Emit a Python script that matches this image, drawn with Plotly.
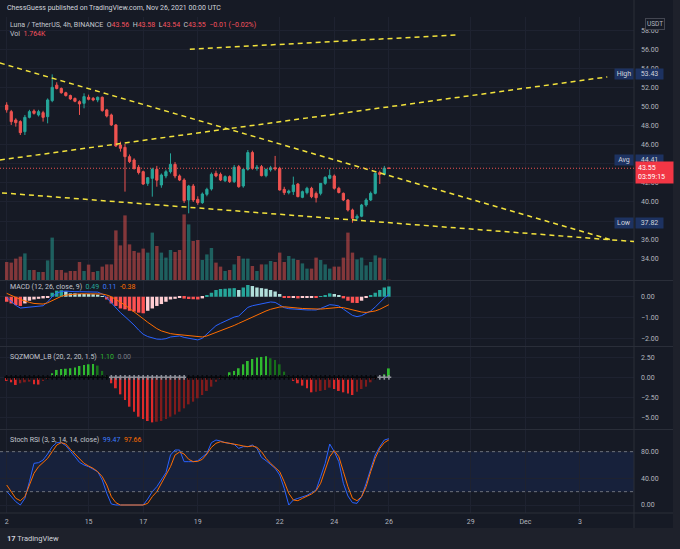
import pandas as pd
import plotly.graph_objects as go

# Luna / TetherUS, 4h candles, Binance, 12 Nov 2021 00:00 .. 26 Nov 2021 00:00
start_time = "2021-11-12 00:00"

opens = [50.20, 49.51, 48.63, 48.46, 47.40, 48.91, 49.58, 49.16, 49.40, 48.98,
         50.67, 52.30, 51.95, 51.50, 51.20, 50.90, 50.56, 50.39, 51.02, 50.91,
         50.74, 51.02, 49.69, 49.16, 48.11, 46.00, 45.75, 44.77, 44.42, 43.65,
         43.19, 41.96, 42.49, 43.44, 41.79, 42.74, 43.19, 43.96, 42.74, 42.31,
         40.21, 41.68, 40.28, 39.93, 40.81, 41.37, 43.02, 42.91, 42.24, 42.67,
         42.14, 43.72, 41.68, 43.44, 45.20, 43.55, 43.72, 42.77, 43.40, 43.60,
         43.54, 41.33, 40.98, 41.09, 41.89, 40.49, 40.98, 41.44, 40.90, 40.91,
         41.96, 42.50, 42.74, 41.44, 40.91, 40.21, 39.16, 38.30, 38.50, 39.68,
         40.21, 40.91, 43.10, 42.90, 43.56]
highs = [50.50, 49.69, 48.81, 48.60, 49.16, 49.70, 49.75, 49.70, 49.60, 50.90,
         53.43, 52.60, 52.05, 51.60, 51.30, 51.00, 50.70, 51.44, 51.30, 51.05,
         51.10, 51.10, 49.80, 49.30, 48.20, 46.35, 46.10, 45.00, 44.60, 43.90,
         43.30, 42.60, 43.60, 43.80, 43.00, 43.40, 45.12, 44.20, 42.90, 42.50,
         41.80, 41.90, 40.60, 41.00, 41.50, 43.10, 43.30, 43.10, 42.80, 42.80,
         43.90, 43.90, 43.50, 45.47, 45.40, 43.90, 43.90, 43.50, 43.80, 44.85,
         43.70, 41.60, 41.30, 42.67, 42.00, 41.20, 41.60, 41.60, 41.10, 42.00,
         42.70, 43.44, 42.90, 41.60, 41.00, 40.30, 39.30, 38.70, 39.80, 40.40,
         41.10, 43.10, 43.30, 43.80, 43.58]
lows = [49.40, 48.11, 47.93, 47.05, 47.05, 48.80, 49.20, 49.00, 48.46, 48.28,
        50.50, 51.85, 51.40, 51.10, 50.75, 50.50, 49.16, 49.86, 50.70, 50.60,
        50.50, 49.50, 48.90, 48.00, 45.80, 45.30, 41.09, 44.10, 43.40, 42.90,
        41.80, 41.70, 40.56, 41.61, 41.50, 42.50, 43.00, 42.50, 42.20, 39.90,
        38.81, 40.00, 39.70, 39.80, 40.60, 41.20, 42.60, 42.20, 42.10, 42.00,
        42.00, 41.50, 41.50, 43.30, 43.40, 43.30, 42.70, 42.60, 43.20, 43.30,
        41.20, 40.74, 40.80, 40.74, 40.50, 40.40, 40.80, 40.40, 39.95, 40.70,
        41.80, 42.40, 41.30, 40.90, 40.10, 39.00, 37.82, 38.00, 38.40, 39.50,
        40.10, 40.80, 41.90, 42.80, 43.54]
closes = [49.70, 48.46, 48.35, 47.30, 48.91, 49.51, 49.33, 49.51, 48.91, 50.74,
          52.07, 51.95, 51.50, 51.20, 50.85, 50.60, 50.32, 51.09, 50.81, 50.74,
          51.02, 49.62, 49.05, 48.11, 45.90, 45.65, 44.77, 44.25, 43.54, 43.10,
          41.89, 42.56, 43.44, 42.30, 42.84, 43.19, 43.96, 42.74, 42.31, 40.14,
          41.68, 40.21, 39.93, 40.84, 41.33, 42.91, 42.74, 42.31, 42.67, 42.14,
          43.65, 41.61, 43.44, 45.20, 43.54, 43.65, 42.77, 43.44, 43.60, 43.50,
          41.26, 40.98, 41.15, 41.79, 40.56, 41.09, 41.44, 40.56, 40.45, 41.96,
          42.60, 42.80, 41.44, 41.00, 40.21, 39.16, 38.28, 38.50, 39.68, 40.21,
          40.91, 43.02, 42.90, 43.56, 43.55]
# volume, thousands
volumes = [90, 87, 107, 117, 133, 50, 50, 40, 40, 98,
           212, 50, 50, 37, 45, 45, 90, 45, 77, 40,
           45, 67, 78, 78, 248, 173, 323, 178, 145, 137,
           157, 137, 237, 170, 137, 112, 150, 140, 150, 328,
           278, 195, 200, 100, 128, 160, 87, 67, 45, 50,
           78, 120, 107, 107, 70, 45, 78, 78, 95, 90,
           137, 90, 120, 107, 100, 83, 57, 57, 112, 100,
           78, 57, 67, 67, 112, 237, 137, 103, 112, 73,
           90, 123, 112, 108, 1.764]

# MACD (12, 26, close, 9)
macd_hist = [-0.24, -0.32, -0.40, -0.44, -0.32, -0.19, -0.13, -0.10, -0.08, -0.02,
             0.19, 0.29, 0.31, 0.25, 0.16, 0.16, 0.13, 0.13, 0.13, 0.12,
             0.10, 0.03, -0.13, -0.32, -0.44, -0.56, -0.60, -0.67, -0.71, -0.76,
             -0.79, -0.67, -0.56, -0.44, -0.35, -0.24, -0.13, -0.10, -0.06, -0.09,
             -0.11, -0.12, -0.13, -0.08, 0.06, 0.19, 0.32, 0.37, 0.38, 0.40,
             0.41, 0.32, 0.44, 0.56, 0.51, 0.44, 0.41, 0.38, 0.32, 0.25,
             0.13, -0.05, -0.06, -0.05, -0.08, -0.06, -0.03, -0.02, -0.03, 0.03,
             0.08, 0.16, 0.13, 0.06, -0.08, -0.19, -0.29, -0.30, -0.19, -0.06,
             0.05, 0.19, 0.32, 0.44, 0.49]
macd_line = [-0.03, -0.22, -0.41, -0.54, -0.52, -0.48, -0.46, -0.44, -0.43, -0.25,
             0.00, 0.17, 0.25, 0.27, 0.24, 0.24, 0.24, 0.24, 0.25, 0.24,
             0.22, 0.13, -0.05, -0.29, -0.54, -0.76, -0.95, -1.14, -1.35, -1.59,
             -1.79, -1.90, -1.97, -2.02, -2.03, -2.00, -1.92, -1.89, -1.87, -1.94,
             -1.98, -2.03, -2.06, -1.98, -1.78, -1.57, -1.38, -1.27, -1.17, -1.06,
             -0.97, -0.92, -0.71, -0.51, -0.43, -0.38, -0.32, -0.29, -0.25, -0.27,
             -0.38, -0.52, -0.57, -0.59, -0.62, -0.63, -0.63, -0.63, -0.63, -0.56,
             -0.48, -0.38, -0.40, -0.44, -0.59, -0.75, -0.89, -0.95, -0.90, -0.79,
             -0.68, -0.49, -0.27, -0.06, 0.11]
macd_signal = [0.16, 0.08, -0.03, -0.13, -0.21, -0.27, -0.32, -0.35, -0.35, -0.29,
               -0.19, -0.08, 0.02, 0.08, 0.11, 0.13, 0.14, 0.14, 0.14, 0.14,
               0.14, 0.13, 0.08, 0.00, -0.13, -0.25, -0.40, -0.56, -0.71, -0.87,
               -1.05, -1.22, -1.38, -1.52, -1.63, -1.71, -1.76, -1.79, -1.81, -1.84,
               -1.87, -1.90, -1.92, -1.92, -1.87, -1.79, -1.71, -1.63, -1.56, -1.46,
               -1.37, -1.27, -1.17, -1.06, -0.95, -0.86, -0.76, -0.68, -0.60, -0.54,
               -0.49, -0.48, -0.49, -0.51, -0.54, -0.56, -0.57, -0.59, -0.60, -0.59,
               -0.57, -0.54, -0.52, -0.51, -0.52, -0.57, -0.63, -0.70, -0.73, -0.75,
               -0.73, -0.68, -0.60, -0.49, -0.38]

# SQZMOM_LB (20, 2, 20, 1.5)
sqz_mom = [-0.45, -0.62, -0.95, -0.74, -0.62, -0.54, -0.87, -0.90, -0.45, -0.21,
           0.50, 0.91, 1.03, 1.06, 1.12, 1.20, 1.40, 1.53, 1.61, 1.65,
           1.45, 0.79, 0.17, -0.74, -1.36, -2.11, -2.81, -3.64, -4.26, -4.88,
           -5.17, -5.41, -5.58, -5.50, -5.41, -5.17, -4.88, -4.59, -4.26, -3.84,
           -3.35, -3.02, -2.60, -2.19, -1.69, -1.16, -0.54, -0.12, 0.21, 0.62,
           0.79, 1.12, 1.61, 2.02, 2.27, 2.44, 2.52, 2.60, 2.36, 2.15,
           1.61, 0.70, 0.08, -0.45, -0.74, -1.03, -1.36, -1.86, -1.78, -1.69,
           -1.57, -1.28, -1.45, -1.69, -1.86, -2.02, -2.19, -1.78, -1.45, -1.16,
           -0.62, -0.21, -0.02, 0.37, 1.10]
# 1 = squeeze released (grey cross), 0 = squeeze on (black cross)
sqz_off = [0, 0, 0, 0, 0, 0, 0, 0, 0, 0,
           0, 0, 0, 0, 0, 0, 0, 0, 0, 0,
           0, 0, 0, 1, 1, 1, 1, 1, 1, 1,
           1, 1, 1, 1, 1, 1, 1, 1, 1, 1,
           0, 0, 0, 0, 0, 0, 0, 0, 0, 0,
           0, 0, 0, 0, 0, 0, 0, 0, 0, 0,
           0, 0, 0, 0, 0, 0, 0, 0, 0, 0,
           0, 0, 0, 0, 0, 0, 0, 0, 0, 0,
           0, 0, 1, 1, 1]

# Stoch RSI (3, 3, 14, 14, close)
stoch_k = [20.5, 12.5, 5, 0, 10, 35, 62.5, 63.5, 67.5, 76.5,
           87.5, 93.5, 93.5, 89, 80, 72.5, 64, 60, 57.5, 53.5,
           50, 37.5, 17.5, 1.5, 0, 0, 0, 0, 0, 0,
           0, 9, 20, 27.5, 38.5, 48.5, 75, 82.5, 82.5, 65,
           65, 65, 66.5, 72.5, 77.5, 93.5, 97.5, 96, 93.5, 92.5,
           91, 85, 87.5, 87.5, 90, 85, 71.5, 66.5, 60, 55,
           45, 25, 0, 7.5, 10, 12.5, 14.5, 18.5, 22.5, 42.5,
           62.5, 91.5, 80, 65, 32.5, 13.5, 3.5, 2.5, 12.5, 32.5,
           55, 75, 87.5, 97.5, 99.47]
stoch_d = [30, 20, 10, 6.5, 12.5, 30, 47.5, 57.5, 63.5, 70,
           80, 90, 93.5, 91.5, 83.5, 76.5, 68.5, 62.5, 58.5, 55,
           50, 42.5, 30, 12.5, 3.5, 0, 0, 0, 0, 0,
           0, 2.5, 12.5, 20, 32.5, 43.5, 57.5, 75, 79.5, 76.5,
           68.5, 65, 65.5, 68.5, 76.5, 86.5, 92.5, 95, 94, 92.5,
           91.5, 90, 88.5, 87.5, 88.5, 86.5, 80, 70, 62.5, 56.5,
           50, 35, 17.5, 7.5, 6.5, 10, 13.5, 16.5, 21.5, 32.5,
           52.5, 72.5, 81.5, 72.5, 50, 27.5, 10, 6.5, 12.5, 27.5,
           50, 70, 85, 93.5, 97.66]

x_tick_dates = ["2021-11-12", "2021-11-15", "2021-11-17", "2021-11-19", "2021-11-22",
                "2021-11-24", "2021-11-26", "2021-11-29", "2021-12-01", "2021-12-03"]
x_tick_labels = ["2", "15", "17", "19", "22", "24", "26", "29", "Dec", "3"]
price_ticks = [34, 36, 38, 40, 42, 44, 46, 48, 50, 52, 54, 56, 58]
macd_ticks = [0, -1, -2]
sqz_ticks = [2.5, 0, -2.5, -5]
stoch_ticks = [80, 40, 0]

# Dashed trend lines drawn by the author: (time, price) -> (time, price)
trend_lines = [
    ("2021-11-11 18:00", 54.63, "2021-12-04 04:00", 36.00),
    ("2021-11-11 18:00", 44.42, "2021-12-04 00:00", 53.16),
    ("2021-11-11 12:00", 41.03, "2021-12-05 12:00", 35.72),
    ("2021-11-18 17:00", 56.08, "2021-11-28 11:30", 57.58),
]
price_high, price_avg, price_low = 53.43, 44.41, 37.82
countdown = "03:59:15"

# Look
FIG_W, FIG_H = 680, 549
PLOT_W = 634
FONT = "Roboto"
BG = "#161a25"
OUTER = "#1e212b"
GRID = "#1e2230"
BORDER = "#2a2e39"
TEXT = "#b2b5be"
UP, DOWN = "#26a69a", "#ef5350"
RED_TXT = "#f7525f"
BLUE, ORANGE = "#2962ff", "#ff6d00"
YELLOW = "#f2e23c"
LABEL_BG = "#1d3261"

dates = pd.date_range(start_time, periods=len(closes), freq="4h")
bar_ms = 4 * 3600 * 1000
x_range = ["2021-11-11 18:07", "2021-12-04 23:30"]


def xp(px):
    return px / PLOT_W


def yp(py):
    return 1 - py / FIG_H


def macd_colours(vals):
    cols, prev = [], 0
    for v in vals:
        if v >= 0:
            cols.append("#26a69a" if v > prev else "#b2dfdb")
        else:
            cols.append("#ffcdd2" if v > prev else "#ff5252")
        prev = v
    return cols


def sqz_colours(vals):
    cols, prev = [], 0
    for v in vals:
        if v > 0:
            cols.append("#2fb92f" if v > prev else "#17701a")
        else:
            cols.append("#de2a2a" if v < prev else "#801b1b")
        prev = v
    return cols


vol_colours = ["rgba(38,166,154,0.5)" if c >= o else "rgba(239,83,80,0.5)"
               for o, c in zip(opens, closes)]

fig = go.Figure()

# Price pane
fig.add_trace(go.Candlestick(
    x=dates, open=opens, high=highs, low=lows, close=closes,
    increasing=dict(line=dict(color=UP, width=1), fillcolor=UP),
    decreasing=dict(line=dict(color=DOWN, width=1), fillcolor=DOWN),
    xaxis="x", yaxis="y", name="LUNAUSDT",
))
fig.add_trace(go.Bar(
    x=dates, y=volumes, marker=dict(color=vol_colours, line=dict(width=0)),
    width=bar_ms * 0.75, xaxis="x", yaxis="y5", name="Vol",
))

# MACD pane
fig.add_trace(go.Bar(
    x=dates, y=macd_hist, marker=dict(color=macd_colours(macd_hist), line=dict(width=0)),
    width=bar_ms * 0.75, xaxis="x2", yaxis="y2",
))
fig.add_trace(go.Scatter(x=dates, y=macd_line, mode="lines",
                         line=dict(color=BLUE, width=1), xaxis="x2", yaxis="y2"))
fig.add_trace(go.Scatter(x=dates, y=macd_signal, mode="lines",
                         line=dict(color=ORANGE, width=1), xaxis="x2", yaxis="y2"))

# Squeeze momentum pane
fig.add_trace(go.Bar(
    x=dates, y=sqz_mom, marker=dict(color=sqz_colours(sqz_mom), line=dict(width=0)),
    width=bar_ms * 0.4, xaxis="x3", yaxis="y3",
))
fig.add_trace(go.Scatter(
    x=dates, y=[0] * len(dates), mode="markers",
    marker=dict(symbol="cross", size=4,
                color=["#8f929b" if s else "#05070b" for s in sqz_off]),
    xaxis="x3", yaxis="y3",
))

# Stoch RSI pane
fig.add_trace(go.Scatter(x=dates, y=stoch_k, mode="lines",
                         line=dict(color=BLUE, width=1), xaxis="x4", yaxis="y4"))
fig.add_trace(go.Scatter(x=dates, y=stoch_d, mode="lines",
                         line=dict(color=ORANGE, width=1), xaxis="x4", yaxis="y4"))

# Axes
tick_font = dict(size=7, color=TEXT, family=FONT)
x_common = dict(type="date", range=x_range, tickvals=x_tick_dates, ticktext=x_tick_labels,
                showgrid=True, gridcolor=GRID, zeroline=False, showline=False, ticks="",
                tickfont=tick_font, domain=[0, 1])
y_common = dict(side="right", showgrid=True, gridcolor=GRID, zeroline=False, showline=False,
                ticks="", tickfont=tick_font, ticklabelstandoff=6)


def fmt(vals, hidden=()):
    # labels sitting under the High/Avg/Low boxes are covered in the original
    return ["" if v in hidden else f"{v:.2f}".replace("-", "−") for v in vals]


fig.update_layout(
    width=FIG_W, height=FIG_H,
    margin=dict(l=0, r=FIG_W - PLOT_W, t=0, b=0),
    paper_bgcolor=BG, plot_bgcolor=BG,
    font=dict(family=FONT, size=7, color=TEXT),
    showlegend=False, hovermode=False,
    xaxis=dict(anchor="y", showticklabels=False, rangeslider=dict(visible=False), **x_common),
    xaxis2=dict(anchor="y2", showticklabels=False, **x_common),
    xaxis3=dict(anchor="y3", showticklabels=False, **x_common),
    xaxis4=dict(anchor="y4", showticklabels=True, ticklabelstandoff=3, **x_common),
    yaxis=dict(anchor="x", domain=[yp(280), yp(17)], range=[31.79, 59.47],
               tickvals=price_ticks, ticktext=fmt(price_ticks, hidden=(38, 44)), **y_common),
    yaxis5=dict(anchor="x", overlaying="y", range=[0, 1315], visible=False),
    yaxis2=dict(anchor="x2", domain=[yp(346), yp(281)], range=[-2.35, 0.75],
                tickvals=macd_ticks, ticktext=fmt(macd_ticks), **y_common),
    yaxis3=dict(anchor="x3", domain=[yp(429), yp(347)], range=[-6.40, 3.75],
                tickvals=sqz_ticks, ticktext=fmt(sqz_ticks), **y_common),
    yaxis4=dict(anchor="x4", domain=[yp(513), yp(430)], range=[-12.0, 112.5],
                tickvals=stoch_ticks, ticktext=fmt(stoch_ticks), **y_common),
)

# Frame, separators, drawings
shapes = [
    dict(type="rect", xref="paper", yref="paper", x0=xp(673), x1=xp(FIG_W), y0=0, y1=1,
         fillcolor=OUTER, line=dict(width=0), layer="below"),
    dict(type="rect", xref="paper", yref="paper", x0=0, x1=xp(FIG_W), y0=0, y1=yp(528),
         fillcolor=OUTER, line=dict(width=0), layer="below"),
    dict(type="line", xref="paper", yref="paper", x0=1, x1=1, y0=yp(528), y1=1,
         line=dict(color=BORDER, width=1)),
]
for row in [280.5, 346.5, 429.5, 513]:
    shapes.append(dict(type="line", xref="paper", yref="paper", x0=0, x1=xp(673),
                       y0=yp(row), y1=yp(row), line=dict(color=BORDER, width=1)))
for t0, p0, t1, p1 in trend_lines:
    shapes.append(dict(type="line", xref="x", yref="y", x0=t0, y0=p0, x1=t1, y1=p1,
                       line=dict(color=YELLOW, width=1.5, dash="5px,4px")))
shapes.append(dict(type="line", xref="paper", yref="y", x0=0, x1=1,
                   y0=closes[-1], y1=closes[-1], line=dict(color=DOWN, width=1, dash="1px,2px")))
shapes.append(dict(type="rect", xref="paper", yref="y4", x0=0, x1=1, y0=20, y1=80,
                   fillcolor="rgba(41,98,255,0.10)", line=dict(width=0), layer="below"))
for lvl in [80, 20]:
    shapes.append(dict(type="line", xref="paper", yref="y4", x0=0, x1=1, y0=lvl, y1=lvl,
                       line=dict(color="#6d717c", width=1, dash="3px,3px")))
fig.update_layout(shapes=shapes)


def note(text, x, y, size=7, color=TEXT, **kw):
    return dict(text=text, x=xp(x), y=yp(y), xref="paper", yref="paper", showarrow=False,
                xanchor=kw.pop("xanchor", "left"), yanchor="middle",
                font=dict(size=size, color=color, family=FONT), **kw)


def red(s):
    return f"<span style='color:{RED_TXT}'>{s}</span>"


def colour(s, c):
    return f"<span style='color:{c}'>{s}</span>"


sp = "&nbsp;&nbsp;"
change = closes[-1] - opens[-1]
ohlc = (f"Luna / TetherUS, 4h, BINANCE{sp}O{red(f'{opens[-1]:.2f}')}{sp}"
        f"H{red(f'{highs[-1]:.2f}')}{sp}L{red(f'{lows[-1]:.2f}')}{sp}"
        f"C{red(f'{closes[-1]:.2f}')}{sp}"
        + red(f"{change:+.2f} ({change / opens[-1] * 100:+.2f}%)".replace("-", "−")))

annotations = [
    note("ChessGuess published on TradingView.com, Nov 26, 2021 00:00 UTC", 5, 8,
         size=7, color="#d1d4dc"),
    note(ohlc, 8, 25, color="#c3c6ce"),
    note(f"Vol{sp}{red(f'{volumes[-1]:.3f}K')}", 8, 34, color="#c3c6ce"),
    note(f"MACD (12, 26, close, 9){sp}{colour(f'{macd_hist[-1]:.2f}', UP)}{sp}"
         f"{colour(f'{macd_line[-1]:.2f}', '#3d7bff')}{sp}{colour(f'{macd_signal[-1]:.2f}', ORANGE)}",
         8, 287, color="#c3c6ce"),
    note(f"SQZMOM_LB (20, 2, 20, 1.5){sp}{colour(f'{sqz_mom[-1]:.2f}', '#2fb92f')}{sp}"
         f"{colour('0.00', '#787b86')}", 8, 356.5, color="#c3c6ce"),
    note(f"Stoch RSI (3, 3, 14, 14, close){sp}{colour(f'{stoch_k[-1]:.2f}', '#3d7bff')}{sp}"
         f"{colour(f'{stoch_d[-1]:.2f}', ORANGE)}", 8, 439.5, color="#c3c6ce"),
    note("<b>17</b> TradingView", 5, 538, size=7.5, color="#d1d4dc"),
    # price scale labels
    note("USDT", 645, 24, size=6.5, bgcolor=BG, bordercolor="#434651", borderwidth=1,
         borderpad=1),
]


def price_y(p):
    # pixel row of a price in the main pane
    top, bottom, lo, hi = 17, 280, 31.79, 59.47
    return top + (hi - p) / (hi - lo) * (bottom - top)


for label, value in [("High", price_high), ("Avg", price_avg), ("Low", price_low)]:
    row = price_y(value)
    annotations.append(note(label, 614, row, color="#d1d4dc", bgcolor=LABEL_BG,
                            width=16, align="center"))
    annotations.append(note(f"{value:.2f}", 635, row, color="#d1d4dc", bgcolor=LABEL_BG,
                            width=25, align="center"))
annotations.append(note(f"{closes[-1]:.2f}<br>{countdown}", 635, price_y(closes[-1]) + 4,
                        color="#ffffff", bgcolor="#f23645", width=33, align="left",
                        borderpad=2))
fig.update_layout(annotations=annotations)

# the page itself should not add a border round the figure, and no toolbar
fig.write_html("out.html", config={"displayModeBar": False},
               post_script="document.body.style.margin = '0';")
